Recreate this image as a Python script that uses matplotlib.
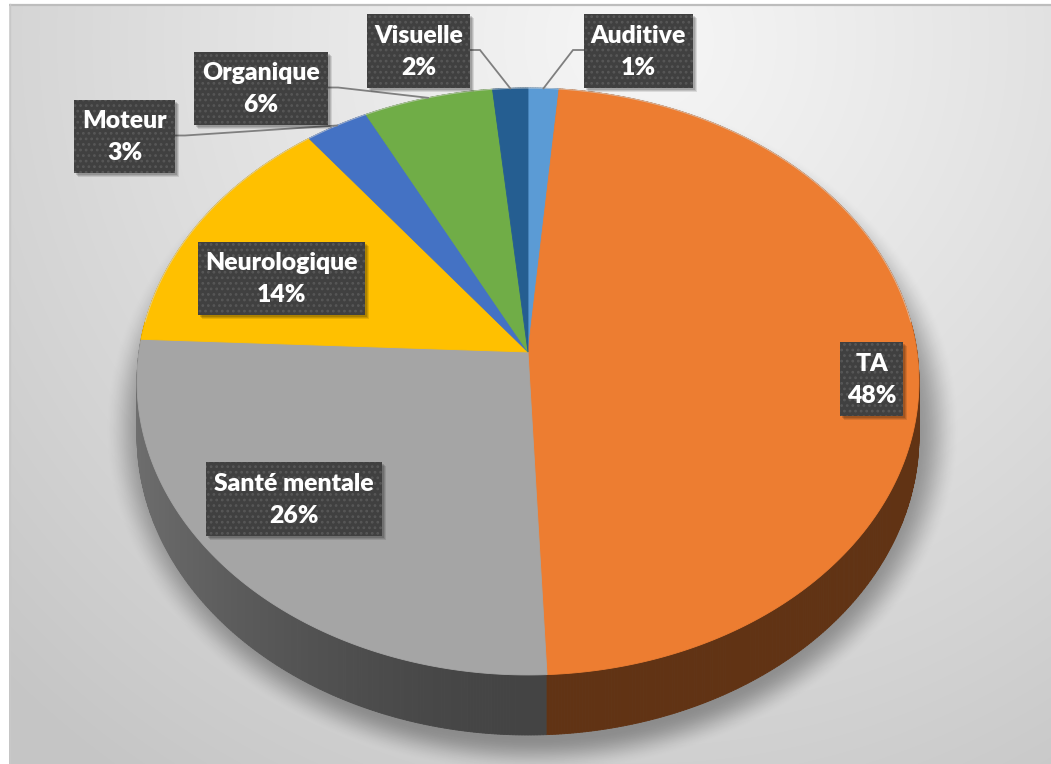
import numpy as np
import matplotlib
matplotlib.use('Agg')
import matplotlib.pyplot as plt
from matplotlib.patches import Polygon, Rectangle
from matplotlib.collections import PolyCollection

# ---------------- data ----------------
categories = ['Auditive', 'TA', 'Santé mentale', 'Neurologique', 'Moteur', 'Organique', 'Visuelle']
values = [1.4, 47.9, 26.4, 13.9, 2.9, 5.9, 1.6]
colors = ['#5B9BD5', '#ED7D31', '#A5A5A5', '#FFC000', '#4472C4', '#70AD47', '#255E91']

total = sum(values)
pct_labels = [f"{round(v / total * 100)}%" for v in values]

# ---------------- layout (pixels) ----------------
W, H = 1051, 764
CX, CY = 528, 352        # apex of the pie on screen
A, B = 389, 290.5        # radii of the projected disc
K = 0.1005               # perspective strength
D0 = 54                  # thickness of the disc

# label boxes: (x0, x1, y0, y1) and leader side
boxes = {
    'Auditive':      (584, 693, 14, 88),
    'TA':            (840, 903, 342, 416),
    'Santé mentale': (206, 382, 462, 536),
    'Neurologique':  (198, 365, 242, 315),
    'Moteur':        (74, 175, 100, 173),
    'Organique':     (194, 328, 52, 125),
    'Visuelle':      (367, 470, 14, 88),
}
leaders = {'Auditive': 'left', 'Visuelle': 'right', 'Organique': 'right', 'Moteur': 'right'}


def proj(phi_deg, depth=0.0, r=1.0):
    phi = np.radians(phi_deg)
    u = r * np.sin(phi)
    v = -r * np.cos(phi)
    w = 1 - K * v
    x = CX + A * u / w
    y = CY + B * v / w + D0 * depth / w
    return x, y


fig = plt.figure(figsize=(W / 100, H / 100), dpi=100)
fig.patch.set_facecolor('white')
ax = fig.add_axes([0, 0, 1, 1])
ax.set_xlim(0, W)
ax.set_ylim(H, 0)
ax.axis('off')

# ---------------- background gradient ----------------
gx0, gy0 = 9, 4
yy, xx = np.mgrid[gy0:H, gx0:W].astype(float)
dist = np.hypot(xx - 640, (yy - 40) * 1.0) / 900
bg = 0.965 - 0.19 * np.clip(dist, 0, 1) ** 1.1
ax.imshow(np.dstack([bg, bg, bg]), extent=(gx0, W, H, gy0), origin='upper',
          interpolation='bilinear', zorder=0, aspect='auto')
ax.plot([gx0, W], [gy0 + 0.5, gy0 + 0.5], color='#bdbdbd', lw=1.6, zorder=0.5,
        solid_capstyle='butt')
ax.plot([gx0 + 0.5, gx0 + 0.5], [gy0, H], color='#c8c8c8', lw=1.0, zorder=0.5)

# ---------------- soft shadow under the pie ----------------
r_sh = np.hypot((xx - 532) / 400, (yy - 428) / 322)
t = np.clip((r_sh - 0.96) / (1.07 - 0.96), 0, 1)
alpha = 0.33 * (1 - (t * t * (3 - 2 * t)))
shadow = np.zeros(r_sh.shape + (4,))
shadow[..., 3] = alpha
ax.imshow(shadow, extent=(gx0, W, H, gy0), origin='upper',
          interpolation='bilinear', zorder=1, aspect='auto')

# ---------------- pie geometry ----------------
bounds = np.concatenate([[0], np.cumsum(values)]) / total * 360.0


def slice_index(phi):
    return min(np.searchsorted(bounds, phi, side='right') - 1, len(values) - 1)


def shade(hex_color, factor):
    c = np.array(matplotlib.colors.to_rgb(hex_color))
    return tuple(np.clip(c * factor, 0, 1))


# side walls
step = 0.4
side_polys, side_cols = [], []
for p0 in np.arange(0, 360, step):
    p1 = p0 + step
    pm = p0 + step / 2
    i = slice_index(pm)
    x0, y0 = proj(p0, 0)
    x1, y1 = proj(p1, 0)
    x2, y2 = proj(p1, 1)
    x3, y3 = proj(p0, 1)
    side_polys.append([(x0, y0), (x1, y1), (x2, y2), (x3, y3)])
    u = np.sin(np.radians(pm))
    f = 0.41 + 0.26 * max(0.0, -u) ** 1.6
    side_cols.append(shade(colors[i], f))
ax.add_collection(PolyCollection(side_polys, facecolors=side_cols, edgecolors=side_cols,
                                 linewidths=0.6, zorder=2))

# top faces
for i, (cat, col) in enumerate(zip(categories, colors)):
    a0, a1 = bounds[i], bounds[i + 1]
    n = max(4, int((a1 - a0) / 0.4))
    phis = np.linspace(a0, a1, n)
    xs, ys = proj(phis, 0)
    pts = [(CX, CY)] + list(zip(xs, ys))
    ax.add_patch(Polygon(pts, closed=True, facecolor=col, edgecolor=col,
                         lw=0.6, zorder=3))

# subtle rim highlight on the back half only
phis = np.linspace(-84, 84, 400)
xs, ys = proj(phis, 0)
ax.plot(xs, ys, color='#d9d9d9', lw=0.8, alpha=0.6, zorder=3.5)

# ---------------- labels ----------------
plt.rcParams['hatch.linewidth'] = 1.2
FONT = ['Lato', 'DejaVu Sans']
for i, cat in enumerate(categories):
    x0, x1, y0, y1 = boxes[cat]
    # leader line
    if cat in leaders:
        mid = (bounds[i] + bounds[i + 1]) / 2
        ex, ey = proj(mid, 0)
        yc = (y0 + y1) / 2 - 1
        if leaders[cat] == 'left':
            sx, stub = x0, x0 - 11
        else:
            sx, stub = x1, x1 + 10
        ax.plot([sx, stub, ex], [yc, yc, ey], color='#7f7f7f', lw=1.3, zorder=4,
                solid_joinstyle='miter')
    # shadow
    for off, al in [(4, 0.10), (3, 0.12), (2, 0.14)]:
        ax.add_patch(Rectangle((x0 + off, y0 + off), x1 - x0, y1 - y0,
                               facecolor='black', edgecolor='none', alpha=al, zorder=5))
    ax.add_patch(Rectangle((x0, y0), x1 - x0, y1 - y0, facecolor='#404040',
                           edgecolor='#575757', hatch='...', lw=0, zorder=6))
    xc = (x0 + x1) / 2
    yc = (y0 + y1) / 2
    ax.text(xc, yc - 15, cat, ha='center', va='center', color='white',
            fontsize=17.8, fontweight='heavy', family=FONT, zorder=7)
    ax.text(xc, yc + 17, pct_labels[i], ha='center', va='center', color='white',
            fontsize=17.8, fontweight='heavy', family=FONT, zorder=7)

fig.savefig('out.png', dpi=100, facecolor=fig.get_facecolor())
